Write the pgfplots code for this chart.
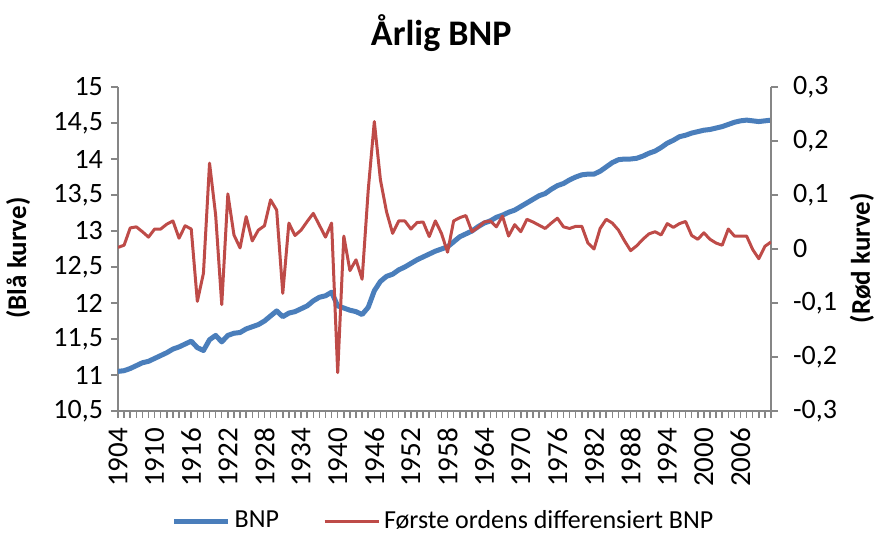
\documentclass[border=0pt]{standalone}
\usepackage{fontspec}
\setmainfont{Carlito}
\usepackage{pgfplots}
\pgfplotsset{compat=1.18}
\usepackage{pgfplotstable}
\definecolor{bnpblue}{HTML}{4A7EBB}
\definecolor{bnpred}{HTML}{BE4B48}
\definecolor{axisgray}{HTML}{868686}

\pgfplotstableread{
year bnp diff
1904 11.05 0.003
1905 11.06 0.007
1906 11.09 0.039
1907 11.13 0.041
1908 11.17 0.032
1909 11.19 0.022
1910 11.23 0.037
1911 11.27 0.037
1912 11.31 0.046
1913 11.36 0.052
1914 11.39 0.020
1915 11.43 0.043
1916 11.47 0.037
1917 11.38 -0.097
1918 11.34 -0.045
1919 11.49 0.159
1920 11.55 0.063
1921 11.46 -0.103
1922 11.55 0.102
1923 11.58 0.026
1924 11.59 0.002
1925 11.64 0.060
1926 11.67 0.015
1927 11.70 0.035
1928 11.75 0.043
1929 11.82 0.091
1930 11.89 0.072
1931 11.81 -0.082
1932 11.86 0.048
1933 11.88 0.025
1934 11.92 0.035
1935 11.96 0.051
1936 12.03 0.066
1937 12.08 0.044
1938 12.10 0.022
1939 12.15 0.048
1940 11.96 -0.229
1941 11.93 0.024
1942 11.90 -0.040
1943 11.88 -0.020
1944 11.84 -0.056
1945 11.94 0.109
1946 12.17 0.236
1947 12.30 0.128
1948 12.37 0.069
1949 12.40 0.029
1950 12.46 0.052
1951 12.50 0.052
1952 12.55 0.037
1953 12.60 0.049
1954 12.64 0.050
1955 12.68 0.023
1956 12.72 0.052
1957 12.75 0.029
1958 12.78 -0.006
1959 12.85 0.052
1960 12.92 0.058
1961 12.96 0.062
1962 13.00 0.032
1963 13.06 0.040
1964 13.11 0.050
1965 13.14 0.052
1966 13.19 0.041
1967 13.22 0.061
1968 13.26 0.024
1969 13.29 0.045
1970 13.34 0.032
1971 13.39 0.055
1972 13.44 0.050
1973 13.49 0.044
1974 13.52 0.038
1975 13.58 0.048
1976 13.63 0.057
1977 13.66 0.041
1978 13.71 0.038
1979 13.75 0.042
1980 13.78 0.042
1981 13.79 0.011
1982 13.79 0.000
1983 13.83 0.038
1984 13.89 0.055
1985 13.95 0.048
1986 13.99 0.035
1987 14.00 0.015
1988 14.00 -0.003
1989 14.01 0.006
1990 14.04 0.018
1991 14.08 0.028
1992 14.11 0.032
1993 14.16 0.026
1994 14.22 0.047
1995 14.26 0.040
1996 14.31 0.047
1997 14.33 0.051
1998 14.36 0.025
1999 14.38 0.018
2000 14.40 0.030
2001 14.41 0.018
2002 14.43 0.011
2003 14.45 0.007
2004 14.48 0.037
2005 14.51 0.024
2006 14.53 0.024
2007 14.54 0.024
2008 14.53 -0.001
2009 14.52 -0.018
2010 14.53 0.005
2011 14.54 0.013
}\data

\pgfplotsset{
  common/.style={
    at={(59pt,61.5pt)}, anchor=south west,
    width=326.5pt, height=162pt, scale only axis,
    xmin=1904, xmax=2011,
    axis line style={axisgray, line width=0.75pt, -},
    tick align=outside,
    major tick length=3.5pt, minor tick length=3.5pt,
    tick style={axisgray, line width=0.75pt},
    every tick label/.append style={font=\fontsize{14}{16}\selectfont, text=black},
  }
}

\begin{document}
\begin{tikzpicture}
\useasboundingbox (0,0) rectangle (438.5pt,267pt);
\begin{axis}[
  common,
  ymin=10.5, ymax=15,
  axis x line*=bottom, axis y line*=left,
  ytick={10.5,11,11.5,12,12.5,13,13.5,14,14.5,15},
  yticklabels={{10,5},{11},{11,5},{12},{12,5},{13},{13,5},{14},{14,5},{15}},
  yticklabel style={anchor=east, xshift=-0.5pt},
  xtick={1904,1910,1916,1922,1928,1934,1940,1946,1952,1958,1964,1970,1976,1982,1988,1994,2000,2006},
  xticklabels={1904,1910,1916,1922,1928,1934,1940,1946,1952,1958,1964,1970,1976,1982,1988,1994,2000,2006},
  minor xtick={1904,1905,...,2011},
  xticklabel style={rotate=90, anchor=east, font=\fontsize{14.5}{16}\selectfont, xshift=-1.5pt},
  ylabel={(Blå kurve)},
  ylabel style={font=\bfseries\fontsize{13.5}{16}\selectfont, at={(axis description cs:-0.153,0.472)}, anchor=center},
  title={Årlig BNP},
  title style={font=\bfseries\fontsize{18}{21}\selectfont, at={(axis description cs:0.495,1)}, anchor=base, yshift=15pt},
]
\addplot[bnpblue, line width=2.5pt, line join=round] table[x=year,y=bnp]{\data};
\end{axis}
\begin{axis}[
  common,
  ymin=-0.3, ymax=0.3,
  axis y line*=right, axis x line=none,
  ytick={-0.3,-0.2,-0.1,0,0.1,0.2,0.3},
  yticklabels={{-0,3},{-0,2},{-0,1},{0},{0,1},{0,2},{0,3}},
  yticklabel style={anchor=west, xshift=4pt},
  ylabel={(Rød kurve)},
  ylabel style={font=\bfseries\fontsize{13.5}{16}\selectfont, at={(axis description cs:1.139,0.472)}, anchor=center},
  legend style={at={(axis description cs:0.5,-0.34)}, anchor=center, draw=none, fill=none,
    legend columns=2, font=\fontsize{13}{15}\selectfont,
    /tikz/every even column/.append style={column sep=20pt}},
  legend image code/.code={\draw[#1] (0pt,0pt) -- (27pt,0pt);},
]
\addlegendimage{bnpblue, line width=2.5pt}
\addlegendentry{BNP}
\addplot[bnpred, line width=1.5pt, line join=round] table[x=year,y=diff]{\data};
\addlegendentry{Første ordens differensiert BNP}
\end{axis}
\end{tikzpicture}
\end{document}
